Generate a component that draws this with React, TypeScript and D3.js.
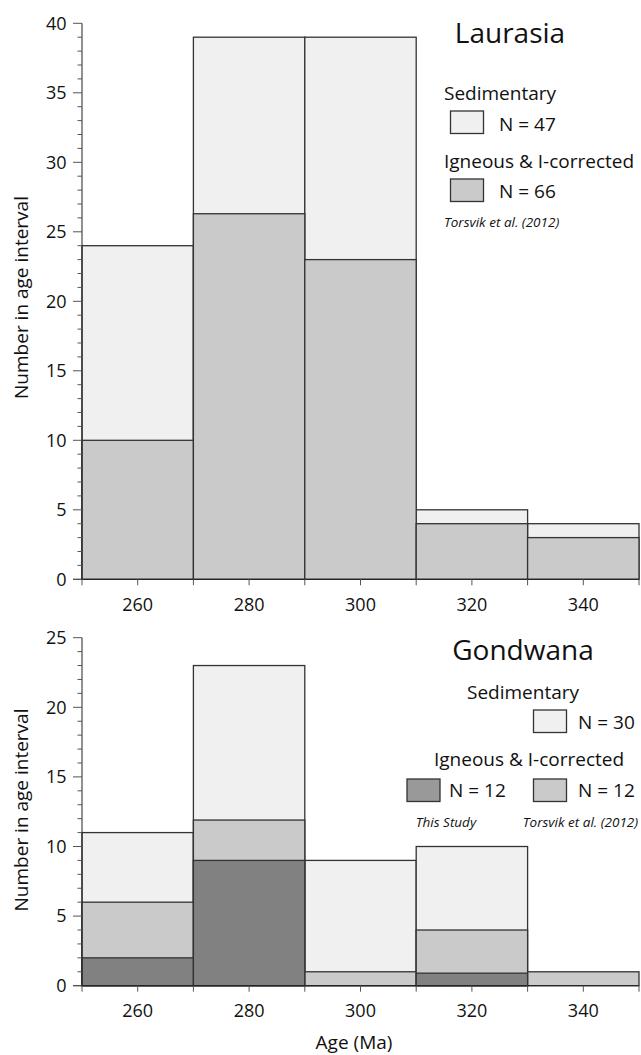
import * as React from "react";
import * as d3 from "d3";

// bin edges (Ma) and bar heights (overlaid, back to front)
const binEdges = [250, 270, 290, 310, 330, 350];
const xTickValues = [250, 260, 270, 280, 290, 300, 310, 320, 330, 340, 350];
const xTickLabels = [260, 280, 300, 320, 340];

const laurasiaSedimentary = [24, 39, 39, 5, 4];
const laurasiaIgneous = [10, 26.3, 23, 4, 3];

const gondwanaSedimentary = [11, 23, 9, 10, 0];
const gondwanaTorsvik = [6, 11.9, 1, 4, 1];
const gondwanaThisStudy = [2, 9, 0, 0.9, 0];

const laurasiaLegendN = ["N = 47", "N = 66"];
const gondwanaLegendN = ["N = 30", "N = 12", "N = 12"];

const FONT = "'Open Sans', 'DejaVu Sans', sans-serif";
const C = {
  sed: "#f0f0f0",
  ign: "#cacaca",
  own: "#818181",
  ownSwatch: "#999999",
  edge: "#333333",
  ink: "#111111",
};

const x = d3.scaleLinear().domain([250, 350]).range([82, 639]);

const Bars = ({ values, fill, y }) => (
  <g>
    {values.map((v, i) =>
      v > 0 ? (
        <rect
          key={i}
          x={x(binEdges[i])}
          y={y(v)}
          width={x(binEdges[i + 1]) - x(binEdges[i])}
          height={y(0) - y(v)}
          fill={fill}
          stroke={C.edge}
          strokeWidth={1.3}
        />
      ) : null
    )}
  </g>
);

const Axes = ({ y, max }) => {
  const minor = d3.range(0, max + 1, 1);
  const major = d3.range(0, max + 1, 5);
  const y0 = y(0);
  return (
    <g fontFamily={FONT} fontSize={18} fill={C.ink}>
      <line x1={x(250)} x2={x(250)} y1={y(max)} y2={y0} stroke="#222" strokeWidth={1} />
      <line x1={x(250) - 9} x2={x(350)} y1={y0} y2={y0} stroke="#222" strokeWidth={1} />
      {minor.map((d) => (
        <line key={"m" + d} x1={x(250) - (d % 5 === 0 ? 9 : 4.5)} x2={x(250)} y1={y(d)} y2={y(d)} stroke="#555" strokeWidth={1} />
      ))}
      {major.map((d) => (
        <text key={"l" + d} x={66.5} y={y(d) + 6.3} textAnchor="end">
          {d}
        </text>
      ))}
      {xTickValues.map((d) => (
        <line key={"xt" + d} x1={x(d)} x2={x(d)} y1={y0} y2={y0 + 6} stroke="#555" strokeWidth={1} />
      ))}
      {xTickLabels.map((d) => (
        <text key={"xl" + d} x={x(d)} y={y0 + 31.5} textAnchor="middle">
          {d}
        </text>
      ))}
    </g>
  );
};

const Swatch = ({ x0, y0, fill }) => (
  <rect x={x0} y={y0} width={33} height={22.5} fill={fill} stroke={C.edge} strokeWidth={1.3} />
);

export default function App() {
  const yTop = d3.scaleLinear().domain([0, 40]).range([579.3, 23.3]);
  const yBot = d3.scaleLinear().domain([0, 25]).range([985.7, 637.7]);

  return (
    <svg
      width={641}
      height={1055}
      viewBox="0 0 641 1055"
      style={{ position: "absolute", left: 0, top: 0, background: "#fff" }}
    >
      {/* Laurasia */}
      <Bars values={laurasiaSedimentary} fill={C.sed} y={yTop} />
      <Bars values={laurasiaIgneous} fill={C.ign} y={yTop} />
      <Axes y={yTop} max={40} />
      <text
        transform="translate(27.5, 297.5) rotate(-90)"
        textAnchor="middle"
        fontFamily={FONT}
        fontSize={19}
        fill={C.ink}
      >
        Number in age interval
      </text>
      <g fontFamily={FONT} fill={C.ink}>
        <text x={510} y={42.5} fontSize={28} textAnchor="middle">Laurasia</text>
        <text x={444} y={100} fontSize={19}>Sedimentary</text>
        <Swatch x0={450.5} y0={111} fill={C.sed} />
        <text x={499} y={130.5} fontSize={19}>{laurasiaLegendN[0]}</text>
        <text x={444} y={168} fontSize={19}>Igneous &amp; I-corrected</text>
        <Swatch x0={450.5} y0={179} fill={C.ign} />
        <text x={499} y={198} fontSize={19}>{laurasiaLegendN[1]}</text>
        <text x={444} y={227} fontSize={13.5} fontStyle="italic">Torsvik et al. (2012)</text>
      </g>

      {/* Gondwana */}
      <Bars values={gondwanaSedimentary} fill={C.sed} y={yBot} />
      <Bars values={gondwanaTorsvik} fill={C.ign} y={yBot} />
      <Bars values={gondwanaThisStudy} fill={C.own} y={yBot} />
      <Axes y={yBot} max={25} />
      <text
        transform="translate(27.5, 810) rotate(-90)"
        textAnchor="middle"
        fontFamily={FONT}
        fontSize={19}
        fill={C.ink}
      >
        Number in age interval
      </text>
      <text x={354} y={1049} textAnchor="middle" fontFamily={FONT} fontSize={19} fill={C.ink}>
        Age (Ma)
      </text>
      <g fontFamily={FONT} fill={C.ink}>
        <text x={523} y={660} fontSize={28} textAnchor="middle">Gondwana</text>
        <text x={523} y={699} fontSize={19} textAnchor="middle">Sedimentary</text>
        <Swatch x0={533.5} y0={710} fill={C.sed} />
        <text x={578} y={728.5} fontSize={19}>{gondwanaLegendN[0]}</text>
        <text x={529} y={765.5} fontSize={19} textAnchor="middle">Igneous &amp; I-corrected</text>
        <Swatch x0={407} y0={779} fill={C.ownSwatch} />
        <text x={449} y={797} fontSize={19}>{gondwanaLegendN[1]}</text>
        <Swatch x0={533.5} y0={779} fill={C.ign} />
        <text x={578} y={797} fontSize={19}>{gondwanaLegendN[2]}</text>
        <text x={446} y={827} fontSize={13.5} fontStyle="italic" textAnchor="middle">This Study</text>
        <text x={580.5} y={827} fontSize={13.5} fontStyle="italic" textAnchor="middle">Torsvik et al. (2012)</text>
      </g>
    </svg>
  );
}
